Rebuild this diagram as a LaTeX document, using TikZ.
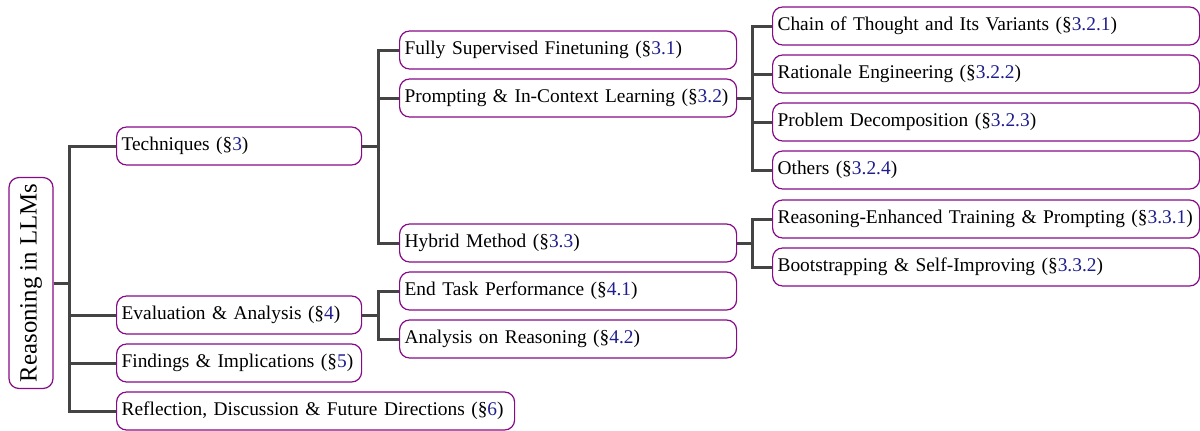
\documentclass[tikz,border=0pt]{standalone}
\usepackage{fontspec}
\setmainfont{Liberation Serif}
\definecolor{boxpurple}{RGB}{135,10,135}
\definecolor{secblue}{RGB}{30,30,140}
\definecolor{edgegray}{RGB}{68,68,68}
\newcommand{\secnum}[1]{(\S\textcolor{secblue}{#1})}
\tikzset{
	secbox/.style={draw=boxpurple,line width=0.6pt,rounded corners=5pt,
		anchor=west,minimum height=19pt,inner xsep=2.5pt,inner ysep=0pt,
		align=left,font=\fontsize{9.7}{11.5}\selectfont,
		execute at begin node=\hbox\bgroup,execute at end node=\egroup},
	topic/.style={secbox,text width=117.5pt},
	subtopic/.style={secbox,text width=163.5pt},
	leaf/.style={secbox,text width=208.5pt},
	branch/.style={draw=edgegray,line width=1.5pt}
}
\begin{document}
\begin{tikzpicture}[x=0.5pt,y=-0.5pt]
			\useasboundingbox (0,0) rectangle (1200,430);
			\node[draw=boxpurple,line width=0.6pt,rounded corners=5pt,
				rotate=90,minimum width=105.5pt,minimum height=22pt,
				inner sep=0pt,font=\fontsize{12.4}{14}\selectfont](root)
				at (31,283) {Reasoning in LLMs};
				\node[topic](tech) at (116,146) {Techniques \secnum{3}};
				\node[topic](eval) at (116,315) {Evaluation \& Analysis
				\secnum{4}};
				\node[topic](find) at (116,363) {Findings \& Implications
				\secnum{5}};
				\node[secbox,text width=194pt](refl) at (116,411)
				{Reflection, Discussion \& Future Directions \secnum{6}};
				\draw[branch] (root.south) -- ++(16,0) |- (tech.west);
				\draw[branch] (root.south) -- ++(16,0) |- (eval.west);
				\draw[branch] (root.south) -- ++(16,0) |- (find.west);
				\draw[branch] (root.south) -- ++(16,0) |- (refl.west);
				\node[subtopic](fsf) at (399,50) {Fully Supervised
				Finetuning \secnum{3.1}};
				\node[subtopic](icl) at (399,98) {Prompting \& In-Context
				Learning \secnum{3.2}};
				\node[subtopic](hyb) at (399,243) {Hybrid Method
				\secnum{3.3}};
				\draw[branch] (tech.east) -- ++(16,0) |- (fsf.west);
				\draw[branch] (tech.east) -- ++(16,0) |- (icl.west);
				\draw[branch] (tech.east) -- ++(16,0) |- (hyb.west);
				\node[subtopic](etp) at (399,291) {End Task Performance
				\secnum{4.1}};
				\node[subtopic](aor) at (399,339) {Analysis on Reasoning
				\secnum{4.2}};
				\draw[branch] (eval.east) -- ++(16,0) |- (etp.west);
				\draw[branch] (eval.east) -- ++(16,0) |- (aor.west);
				\node[leaf](cot) at (772,26) {Chain of Thought and Its
				Variants \secnum{3.2.1}};
				\node[leaf](rat) at (772,74) {Rationale Engineering
				\secnum{3.2.2}};
				\node[leaf](dec) at (772,122) {Problem Decomposition
				\secnum{3.2.3}};
				\node[leaf](oth) at (772,170) {Others \secnum{3.2.4}};
				\draw[branch] (icl.east) -- ++(15,0) |- (cot.west);
				\draw[branch] (icl.east) -- ++(15,0) |- (rat.west);
				\draw[branch] (icl.east) -- ++(15,0) |- (dec.west);
				\draw[branch] (icl.east) -- ++(15,0) |- (oth.west);
				\node[leaf](ret) at (772,219) {Reasoning-Enhanced Training
				\& Prompting \secnum{3.3.1}};
				\node[leaf](boot) at (772,267) {Bootstrapping \&
				Self-Improving \secnum{3.3.2}};
				\draw[branch] (hyb.east) -- ++(15,0) |- (ret.west);
				\draw[branch] (hyb.east) -- ++(15,0) |- (boot.west);
		\end{tikzpicture}
\end{document}
